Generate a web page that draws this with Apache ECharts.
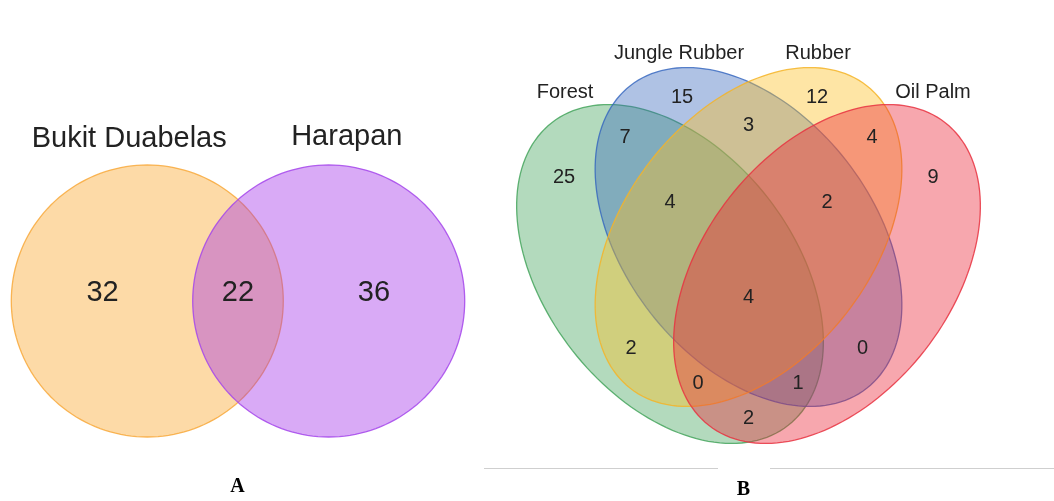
<!DOCTYPE html>
<html>
<head>
<meta charset="utf-8">
<style>
  html, body { margin: 0; padding: 0; background: #fff; }
  #chart { width: 1054px; height: 501px; }
</style>
<script src="https://cdn.jsdelivr.net/npm/echarts@6/dist/echarts.min.js"></script>
</head>
<body>
<div id="chart"></div>
<script>
// ---- data ----
// panel A: two sites
const sitesA = ["Bukit Duabelas", "Harapan"];
const countsA = [32, 22, 36]; // only BD, both, only Harapan

// panel B: four land-use systems
const setsB = ["Forest", "Jungle Rubber", "Rubber", "Oil Palm"];
const countsB = [15, 12, 7, 3, 4, 25, 9, 4, 2, 4, 2, 0, 0, 1, 2];

// ---- layout (venn geometry, in axis units) ----
// circle: [cx, cy, rx, ry, angle]
const shapesA = [[-0.667, 0, 1, 1, 0], [0.667, 0, 1, 1, 0]];
const siteLabelPosA = [[-0.80, 1.19], [0.80, 1.205]];
const countPosA = [[-0.996, 0.06], [0, 0.06], [1.0, 0.06]];

const shapesB = [
  [-0.785, -0.37, 1.92, 1.24, -52],
  [0, 0, 1.92, 1.24, -52],
  [0, 0, 1.92, 1.24, 52],
  [0.785, -0.37, 1.92, 1.24, 52]
];
const setLabelPosB = [[-1.835, 1.45], [-0.695, 1.84], [0.695, 1.84], [1.845, 1.45]];
const countPosB = [
  [-0.665, 1.40], [0.685, 1.40], [-1.235, 1.00], [0, 1.12], [1.235, 1.00],
  [-1.845, 0.60], [1.845, 0.60], [-0.785, 0.35], [0.785, 0.35], [0, -0.60],
  [-1.175, -1.11], [1.14, -1.11], [-0.505, -1.46], [0.495, -1.46], [0, -1.81]
];

const fillsA = ["rgba(251,162,36,0.4)", "rgba(160,43,233,0.4)"];
const strokesA = ["rgba(248,165,50,0.8)", "rgba(165,70,235,0.85)"];
const fillsB = ["rgba(65,162,90,0.4)", "rgba(55,103,187,0.4)", "rgba(252,190,30,0.4)", "rgba(235,35,52,0.4)"];
const strokesB = ["rgba(60,160,85,0.8)", "rgba(50,100,190,0.8)", "rgba(245,180,40,0.85)", "rgba(232,50,65,0.85)"];

const FONT = "'Liberation Sans', Arial, sans-serif";

function ellipseItem(fills, strokes) {
  return function (params, api) {
    const cx = api.value(0), cy = api.value(1);
    const a = api.value(2), b = api.value(3);
    const ang = api.value(4) * Math.PI / 180;
    const pts = [];
    for (let k = 0; k < 160; k++) {
      const t = 2 * Math.PI * k / 160;
      const x = cx + a * Math.cos(ang) * Math.cos(t) - b * Math.sin(ang) * Math.sin(t);
      const y = cy + a * Math.sin(ang) * Math.cos(t) + b * Math.cos(ang) * Math.sin(t);
      pts.push(api.coord([x, y]));
    }
    return {
      type: "polygon",
      shape: { points: pts },
      style: { fill: fills[params.dataIndex], stroke: strokes[params.dataIndex], lineWidth: 1.3 }
    };
  };
}

function textItem(size) {
  return function (params, api) {
    const p = api.coord([api.value(0), api.value(1)]);
    return {
      type: "text",
      x: p[0],
      y: p[1],
      style: {
        text: String(api.value(2)),
        align: "center",
        verticalAlign: "middle",
        fontSize: size,
        fontFamily: FONT,
        fill: "#222"
      }
    };
  };
}

const zip = (pos, vals) => pos.map((p, i) => [p[0], p[1], vals[i]]);

const chart = echarts.init(document.getElementById("chart"));
chart.setOption({
  animation: false,
  backgroundColor: "#fff",
  grid: [
    { left: 0, top: 110.6, width: 476, height: 380.8 },
    { left: 498.5, top: 37, width: 500, height: 400 }
  ],
  xAxis: [
    { gridIndex: 0, type: "value", min: -1.75, max: 1.75, show: false },
    { gridIndex: 1, type: "value", min: -2.5, max: 2.5, show: false }
  ],
  yAxis: [
    { gridIndex: 0, type: "value", min: -1.4, max: 1.4, show: false },
    { gridIndex: 1, type: "value", min: -2, max: 2, show: false }
  ],
  series: [
    {
      type: "custom", xAxisIndex: 0, yAxisIndex: 0, silent: true,
      renderItem: ellipseItem(fillsA, strokesA), data: shapesA
    },
    {
      type: "custom", xAxisIndex: 0, yAxisIndex: 0, silent: true, z: 5,
      renderItem: textItem(29), data: zip(siteLabelPosA, sitesA),
      dimensions: ["x", "y", { name: "t", type: "ordinal" }]
    },
    {
      type: "custom", xAxisIndex: 0, yAxisIndex: 0, silent: true, z: 5,
      renderItem: textItem(29), data: zip(countPosA, countsA)
    },
    {
      type: "custom", xAxisIndex: 1, yAxisIndex: 1, silent: true,
      renderItem: ellipseItem(fillsB, strokesB), data: shapesB
    },
    {
      type: "custom", xAxisIndex: 1, yAxisIndex: 1, silent: true, z: 5,
      renderItem: textItem(20), data: zip(setLabelPosB, setsB),
      dimensions: ["x", "y", { name: "t", type: "ordinal" }]
    },
    {
      type: "custom", xAxisIndex: 1, yAxisIndex: 1, silent: true, z: 5,
      renderItem: textItem(20), data: zip(countPosB, countsB)
    }
  ],
  graphic: [
    { type: "line", shape: { x1: 484, y1: 468.5, x2: 718, y2: 468.5 }, style: { stroke: "#cfcfcf", lineWidth: 1 } },
    { type: "line", shape: { x1: 770, y1: 468.5, x2: 1054, y2: 468.5 }, style: { stroke: "#cfcfcf", lineWidth: 1 } },
    { type: "text", x: 237.5, y: 487, style: { text: "A", align: "center", verticalAlign: "middle", font: "bold 20px 'Liberation Serif', 'Times New Roman', serif", fill: "#000" } },
    { type: "text", x: 743.5, y: 490, style: { text: "B", align: "center", verticalAlign: "middle", font: "bold 20px 'Liberation Serif', 'Times New Roman', serif", fill: "#000" } }
  ]
});
</script>
</body>
</html>
